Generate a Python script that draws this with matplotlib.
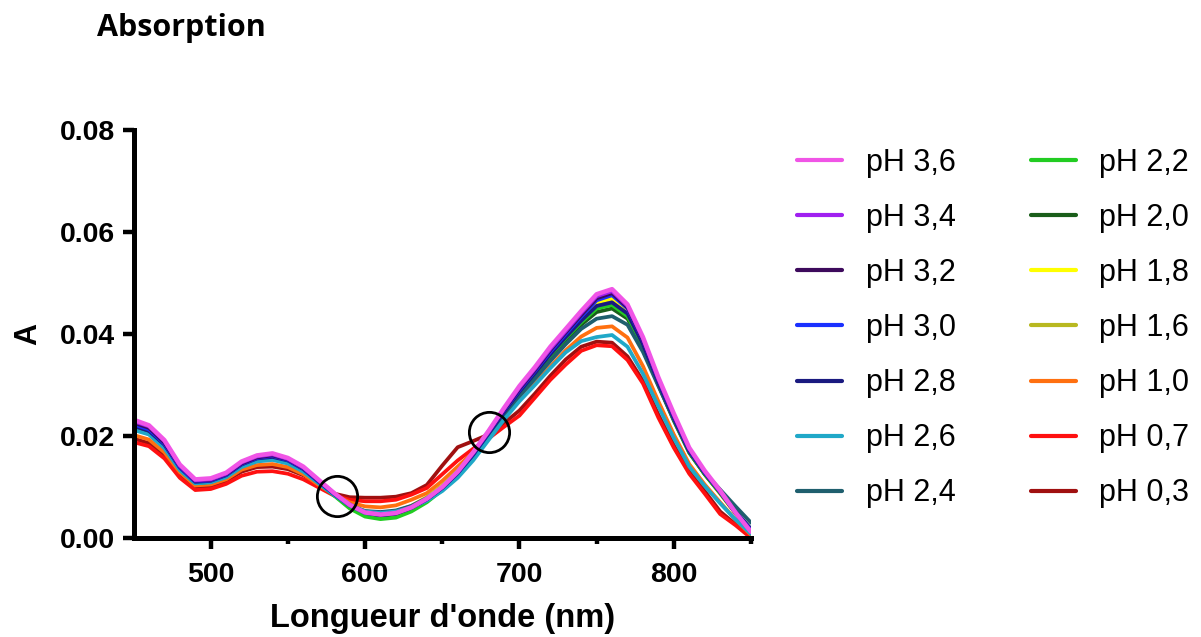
import matplotlib
matplotlib.use("Agg")
import matplotlib.pyplot as plt
import numpy as np

# ---------------- data ----------------
wavelengths = list(range(450, 851, 10))

labels = ["pH 3,6", "pH 3,4", "pH 3,2", "pH 3,0", "pH 2,8", "pH 2,6", "pH 2,4",
          "pH 2,2", "pH 2,0", "pH 1,8", "pH 1,6", "pH 1,0", "pH 0,7", "pH 0,3"]

ph36 = [0.0232, 0.0221, 0.0192, 0.0144, 0.0115, 0.0117, 0.0128, 0.0150, 0.0162, 0.0166, 0.0157,
        0.0140, 0.0114, 0.0088, 0.0065, 0.0050, 0.0046, 0.0049, 0.0060, 0.0077, 0.0100, 0.0130,
        0.0168, 0.0210, 0.0255, 0.0298, 0.0335, 0.0375, 0.0410, 0.0445, 0.0478, 0.0488, 0.0458,
        0.0394, 0.0315, 0.0244, 0.0177, 0.0132, 0.0093, 0.0050, 0.0012]
ph34 = [0.0229, 0.0219, 0.0190, 0.0142, 0.0113, 0.0115, 0.0126, 0.0148, 0.0160, 0.0164, 0.0155,
        0.0138, 0.0113, 0.0088, 0.0066, 0.0050, 0.0046, 0.0049, 0.0060, 0.0077, 0.0100, 0.0130,
        0.0167, 0.0209, 0.0253, 0.0295, 0.0332, 0.0371, 0.0406, 0.0441, 0.0474, 0.0484, 0.0455,
        0.0391, 0.0312, 0.0241, 0.0175, 0.0130, 0.0091, 0.0049, 0.0012]
ph32 = [0.0226, 0.0216, 0.0187, 0.0141, 0.0112, 0.0114, 0.0125, 0.0146, 0.0158, 0.0162, 0.0154,
        0.0137, 0.0112, 0.0087, 0.0065, 0.0050, 0.0045, 0.0048, 0.0059, 0.0076, 0.0099, 0.0129,
        0.0166, 0.0208, 0.0251, 0.0292, 0.0329, 0.0368, 0.0403, 0.0437, 0.0470, 0.0480, 0.0452,
        0.0388, 0.0310, 0.0239, 0.0173, 0.0129, 0.0090, 0.0049, 0.0013]
ph30 = [0.0223, 0.0213, 0.0185, 0.0139, 0.0111, 0.0113, 0.0124, 0.0145, 0.0157, 0.0161, 0.0153,
        0.0136, 0.0111, 0.0086, 0.0064, 0.0049, 0.0045, 0.0048, 0.0059, 0.0076, 0.0099, 0.0128,
        0.0165, 0.0207, 0.0250, 0.0290, 0.0327, 0.0365, 0.0400, 0.0434, 0.0466, 0.0476, 0.0450,
        0.0387, 0.0309, 0.0238, 0.0172, 0.0128, 0.0090, 0.0050, 0.0015]
ph28 = [0.0220, 0.0210, 0.0183, 0.0138, 0.0110, 0.0112, 0.0123, 0.0144, 0.0156, 0.0159, 0.0152,
        0.0135, 0.0110, 0.0086, 0.0064, 0.0050, 0.0046, 0.0049, 0.0060, 0.0076, 0.0098, 0.0127,
        0.0163, 0.0205, 0.0247, 0.0287, 0.0323, 0.0360, 0.0394, 0.0426, 0.0455, 0.0462, 0.0440,
        0.0380, 0.0305, 0.0235, 0.0170, 0.0127, 0.0090, 0.0052, 0.0018]
ph26 = [0.0212, 0.0203, 0.0176, 0.0133, 0.0107, 0.0109, 0.0119, 0.0139, 0.0150, 0.0153, 0.0146,
        0.0130, 0.0107, 0.0084, 0.0064, 0.0052, 0.0049, 0.0052, 0.0060, 0.0073, 0.0092, 0.0118,
        0.0152, 0.0192, 0.0232, 0.0268, 0.0300, 0.0333, 0.0364, 0.0386, 0.0394, 0.0398, 0.0375,
        0.0322, 0.0258, 0.0196, 0.0140, 0.0102, 0.0068, 0.0036, 0.0008]
ph24 = [0.0214, 0.0204, 0.0178, 0.0135, 0.0108, 0.0110, 0.0121, 0.0142, 0.0153, 0.0155, 0.0148,
        0.0132, 0.0108, 0.0085, 0.0064, 0.0053, 0.0051, 0.0054, 0.0063, 0.0078, 0.0098, 0.0125,
        0.0160, 0.0200, 0.0240, 0.0278, 0.0312, 0.0347, 0.0380, 0.0410, 0.0430, 0.0435, 0.0418,
        0.0365, 0.0298, 0.0232, 0.0170, 0.0128, 0.0095, 0.0062, 0.0030]
ph22 = [0.0218, 0.0208, 0.0181, 0.0136, 0.0109, 0.0111, 0.0122, 0.0144, 0.0155, 0.0157, 0.0150,
        0.0133, 0.0108, 0.0083, 0.0058, 0.0042, 0.0037, 0.0040, 0.0052, 0.0070, 0.0094, 0.0124,
        0.0161, 0.0204, 0.0247, 0.0287, 0.0322, 0.0358, 0.0392, 0.0423, 0.0450, 0.0457, 0.0435,
        0.0377, 0.0302, 0.0232, 0.0168, 0.0125, 0.0088, 0.0049, 0.0014]
ph20 = [0.0216, 0.0206, 0.0179, 0.0135, 0.0108, 0.0110, 0.0121, 0.0143, 0.0154, 0.0156, 0.0149,
        0.0133, 0.0108, 0.0084, 0.0061, 0.0047, 0.0043, 0.0046, 0.0057, 0.0074, 0.0097, 0.0126,
        0.0162, 0.0204, 0.0246, 0.0285, 0.0320, 0.0355, 0.0388, 0.0418, 0.0443, 0.0450, 0.0430,
        0.0373, 0.0300, 0.0230, 0.0167, 0.0125, 0.0089, 0.0051, 0.0016]
ph18 = [0.0217, 0.0207, 0.0180, 0.0136, 0.0109, 0.0111, 0.0122, 0.0144, 0.0155, 0.0157, 0.0150,
        0.0134, 0.0109, 0.0085, 0.0063, 0.0050, 0.0047, 0.0050, 0.0061, 0.0078, 0.0101, 0.0130,
        0.0166, 0.0207, 0.0249, 0.0289, 0.0325, 0.0362, 0.0397, 0.0430, 0.0462, 0.0470, 0.0445,
        0.0384, 0.0307, 0.0236, 0.0170, 0.0126, 0.0088, 0.0049, 0.0013]
ph16 = [0.0215, 0.0205, 0.0179, 0.0135, 0.0108, 0.0110, 0.0121, 0.0143, 0.0154, 0.0156, 0.0149,
        0.0133, 0.0109, 0.0085, 0.0064, 0.0052, 0.0049, 0.0052, 0.0063, 0.0080, 0.0103, 0.0132,
        0.0167, 0.0207, 0.0248, 0.0287, 0.0322, 0.0359, 0.0393, 0.0425, 0.0457, 0.0465, 0.0441,
        0.0381, 0.0305, 0.0234, 0.0169, 0.0125, 0.0087, 0.0048, 0.0012]
ph10 = [0.0202, 0.0193, 0.0168, 0.0129, 0.0103, 0.0105, 0.0115, 0.0134, 0.0143, 0.0145, 0.0139,
        0.0125, 0.0104, 0.0085, 0.0070, 0.0062, 0.0060, 0.0064, 0.0075, 0.0088, 0.0112, 0.0140,
        0.0168, 0.0200, 0.0236, 0.0270, 0.0302, 0.0336, 0.0368, 0.0395, 0.0412, 0.0415, 0.0393,
        0.0337, 0.0268, 0.0203, 0.0145, 0.0105, 0.0070, 0.0036, 0.0006]
ph07 = [0.0188, 0.0180, 0.0156, 0.0118, 0.0094, 0.0096, 0.0106, 0.0122, 0.0130, 0.0131, 0.0126,
        0.0115, 0.0099, 0.0083, 0.0075, 0.0072, 0.0072, 0.0075, 0.0085, 0.0098, 0.0125, 0.0152,
        0.0175, 0.0195, 0.0218, 0.0240, 0.0275, 0.0310, 0.0340, 0.0367, 0.0378, 0.0376, 0.0349,
        0.0303, 0.0236, 0.0177, 0.0126, 0.0087, 0.0047, 0.0025, 0.0000]
ph03 = [0.0195, 0.0186, 0.0162, 0.0123, 0.0099, 0.0101, 0.0112, 0.0130, 0.0139, 0.0140, 0.0135,
        0.0123, 0.0105, 0.0087, 0.0080, 0.0079, 0.0079, 0.0081, 0.0088, 0.0104, 0.0142, 0.0178,
        0.0190, 0.0203, 0.0225, 0.0250, 0.0283, 0.0318, 0.0350, 0.0375, 0.0385, 0.0383, 0.0356,
        0.0308, 0.0242, 0.0182, 0.0130, 0.0092, 0.0052, 0.0027, 0.0002]

series = [ph36, ph34, ph32, ph30, ph28, ph26, ph24, ph22, ph20, ph18, ph16, ph10, ph07, ph03]

colors = ["#f055e6", "#a020f0", "#3d0a5c", "#1a30ff", "#1a1a80", "#20a8c8", "#1f5f6e",
          "#22cc22", "#1a5e1a", "#ffff00", "#b8b820", "#ff7010", "#ff1010", "#a01010"]

# isosbestic points marked with circles
circle_x = [582, 680.5]
circle_y = [0.0083, 0.0207]

# ---------------- figure ----------------
W, H = 1201, 637
fig = plt.figure(figsize=(W / 100, H / 100), dpi=100)
ax = fig.add_axes([133.5 / W, 1 - 538 / H, (751 - 133.5) / W, (538 - 130) / H])

handles = [None] * len(series)
for i in reversed(range(len(series))):
    lw = 3.2 if i == 0 else 2.7
    (ln,) = ax.plot(wavelengths, series[i], color=colors[i], lw=lw,
                    solid_capstyle="round", solid_joinstyle="round")
    handles[i] = ln

ax.plot(circle_x, circle_y, ls="none", marker="o", ms=29, mfc="none",
        mec="black", mew=2.0, zorder=10)

ax.set_xlim(450, 850)
ax.set_ylim(0, 0.08)
ax.set_xticks([500, 600, 700, 800])
ax.set_xticks([550, 650, 750, 850], minor=True)
ax.set_yticks([0.0, 0.02, 0.04, 0.06, 0.08])
ax.set_yticklabels(["0.00", "0.02", "0.04", "0.06", "0.08"])

for s in ["top", "right"]:
    ax.spines[s].set_visible(False)
for s in ["left", "bottom"]:
    ax.spines[s].set_linewidth(3.6)
    ax.spines[s].set_capstyle("projecting")

ax.tick_params(axis="both", which="major", length=8, width=3.2, direction="out")
ax.tick_params(axis="y", which="major", pad=5)
ax.tick_params(axis="x", which="major", pad=9)
ax.tick_params(axis="x", which="minor", length=4.5, width=3.2, direction="out")
for lab in ax.get_xticklabels() + ax.get_yticklabels():
    lab.set_fontfamily("Liberation Sans")
    lab.set_fontweight("bold")
    lab.set_fontsize(20.5)

ax.set_xlabel("Longueur d'onde (nm)", fontfamily="Liberation Sans", fontweight="bold",
              fontsize=23.5, labelpad=11)
ax.set_ylabel("A", fontfamily="Liberation Sans", fontweight="bold", fontsize=22, labelpad=12)

fig.text(97 / W, 1 - 28 / H, "Absorption", fontfamily="Open Sans", fontweight="bold",
         fontsize=22, ha="left", va="center")

leg = fig.legend(handles, labels, ncol=2, loc="upper left",
                 bbox_to_anchor=(797 / W, 1 - 148 / H), frameon=False,
                 prop=dict(family="Liberation Sans", size=22),
                 handlelength=1.47, handletextpad=0.78, columnspacing=2.45,
                 labelspacing=0.82, borderaxespad=0, borderpad=0)
for lh in leg.get_lines():
    lh.set_linewidth(3.0)

fig.savefig("out.png", dpi=100)
